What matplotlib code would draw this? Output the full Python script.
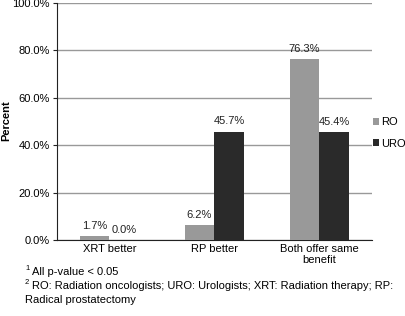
import matplotlib
matplotlib.use("Agg")
import matplotlib.pyplot as plt
import numpy as np

categories = ["XRT better", "RP better", "Both offer same\nbenefit"]
ro_values = [1.7, 6.2, 76.3]
uro_values = [0.0, 45.7, 45.4]
series_names = ["RO", "URO"]
yticks = [0, 20, 40, 60, 80, 100]

plt.rcParams['font.family'] = ['Liberation Sans', 'DejaVu Sans']

W, H = 406, 316
FS = 8
fig = plt.figure(figsize=(W/100, H/100), dpi=100)
ax = fig.add_axes([57/W, 1-240/H, 315/W, 237/H])

x = np.arange(len(categories))
bw = 0.285
c_ro = '#999999'
c_uro = '#2a2a2a'
b1 = ax.bar(x - bw/2, ro_values, bw, color=c_ro, label=series_names[0], zorder=3)
b2 = ax.bar(x + bw/2, uro_values, bw, color=c_uro, label=series_names[1], zorder=3)

for bars, vals in ((b1, ro_values), (b2, uro_values)):
    for r, v in zip(bars, vals):
        ax.text(r.get_x() + r.get_width()/2, v + 2.2, f"{v:.1f}%", ha='center', va='bottom',
                fontsize=FS, color='#222222', zorder=4)

ax.set_xlim(-0.5, 2.5)
ax.set_ylim(0, 100)
ax.set_yticks(yticks)
ax.set_yticklabels([f"{t:.1f}%" for t in yticks], fontsize=FS)
ax.set_xticks(x)
ax.set_xticklabels(categories, fontsize=FS, linespacing=1.1)
ax.tick_params(axis='x', length=0, pad=3)
ax.tick_params(axis='y', length=3, direction='out', pad=2, color='#222222')
ax.yaxis.grid(True, color='#999999', linewidth=1.0, zorder=0)
for s in ['top', 'right']:
    ax.spines[s].set_visible(False)
ax.spines['left'].set_color('#222222')
ax.spines['bottom'].set_color('#222222')

fig.text(6/W, 1-121/H, "Percent", fontsize=FS, fontweight='bold', rotation=90,
         ha='center', va='center')

leg = fig.legend(handles=[b1, b2], labels=series_names, loc='center left',
                 bbox_to_anchor=(373/W, 1-133/H), frameon=False, fontsize=FS,
                 handlelength=0.5, handleheight=0.5, handletextpad=0.2, labelspacing=1.0,
                 borderpad=0, borderaxespad=0)

x0 = 25/W
fig.text(x0, 1-268/H, "1", fontsize=5.5, va='center')
fig.text(x0 + 7/W, 1-272/H, "All p-value < 0.05", fontsize=FS, va='center')
fig.text(x0, 1-282/H, "2", fontsize=5.5, va='center')
fig.text(x0 + 7/W, 1-286/H, "RO: Radiation oncologists; URO: Urologists; XRT: Radiation therapy; RP:",
         fontsize=FS, va='center')
fig.text(x0, 1-300/H, "Radical prostatectomy", fontsize=FS, va='center')

fig.savefig("out.png", dpi=100)
